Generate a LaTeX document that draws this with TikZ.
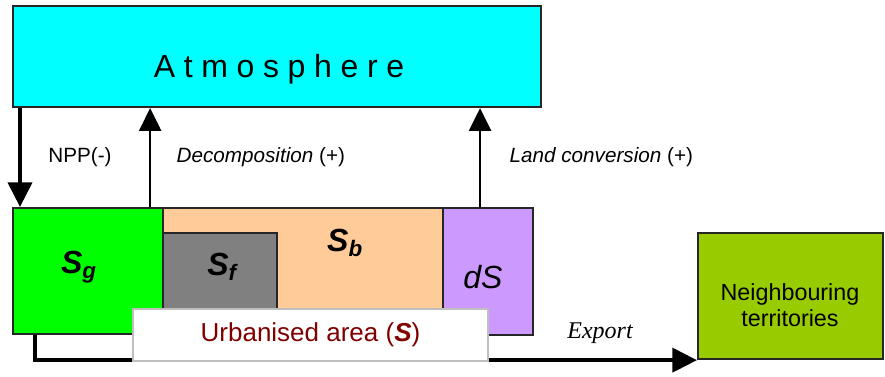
\documentclass[tikz,border=0pt]{standalone}
\usepackage{fontspec}
\setmainfont{Liberation Sans}
\newfontfamily\timesfont{Liberation Serif}
\newfontfamily\spacedfont[LetterSpace=27]{Liberation Sans}
\usetikzlibrary{arrows.meta,calc}
\definecolor{atmcyan}{RGB}{0,255,255}
\definecolor{sggreen}{RGB}{0,255,0}
\definecolor{sbpeach}{RGB}{255,204,153}
\definecolor{sfgray}{RGB}{128,128,128}
\definecolor{dsviolet}{RGB}{204,153,255}
\definecolor{neighgreen}{RGB}{153,204,0}
\definecolor{urbanred}{RGB}{128,0,0}
\begin{document}
\begin{tikzpicture}[x=0.75pt,y=-0.75pt,
    box/.style={draw=black!85,line width=1.6pt,inner sep=0pt,anchor=north west},
    stocklabel/.style={font=\fontsize{24}{28}\selectfont\bfseries\itshape},
    thinarrow/.style={line width=1.5pt,-{Triangle[width=16.5pt,length=17pt]}},
    bigarrow/.style={line width=3pt,-{Triangle[width=18pt,length=18.5pt]}},
    flowlabel/.style={font=\fontsize{15.5}{18}\selectfont}]
\useasboundingbox (0,0) rectangle (885,376);
% boxes
\node[box,fill=atmcyan,minimum width=396pt,minimum height=75.75pt] (atm) at (12,5) {};
\node[font=\spacedfont\fontsize{24}{28}\selectfont] (atmtext) at (279,69) {Atmosphere};
\node[box,fill=sggreen,minimum width=112.5pt,minimum height=94.5pt] (sg) at (12,207) {};
\node[box,fill=sbpeach,minimum width=210pt,minimum height=95.25pt] (sb) at (162,207) {};
\node[box,fill=sfgray,minimum width=85.5pt,minimum height=76.5pt] (sf) at (162,232) {};
\node[box,fill=dsviolet,minimum width=67.5pt,minimum height=95.25pt] (ds) at (442,207) {};
\node[stocklabel] (sgtext) at (79,267) {S\textsubscript{g}};
\node[stocklabel] (sbtext) at (345,243) {S\textsubscript{b}};
\node[stocklabel] (sftext) at (222,267) {S\textsubscript{f}};
\node[font=\fontsize{24}{28}\selectfont\itshape] (dstext) at (483,277) {dS};
% fluxes
\draw[bigarrow] ($(atm.south west)+(8,0)$) coordinate (npp) -- (npp |- sg.north);
\draw[thinarrow] ($(sg.north east)+(-14,0)$) coordinate (dec) -- (dec |- atm.south);
\draw[thinarrow] ($(ds.north)+(-8,0)$) coordinate (conv) -- (conv |- atm.south);
\node[flowlabel] (npplabel) at (80,157) {NPP(-)};
\node[flowlabel,anchor=west] (declabel) at (172,157) {\textit{Decomposition} (+)};
\node[flowlabel,anchor=west] (convlabel) at (505,157) {\textit{Land conversion} (+)};
% export
\node[box,fill=neighgreen,minimum width=138.75pt,minimum height=94.5pt] (neigh) at (697,232) {};
\node[font=\fontsize{17.5}{19}\selectfont,align=center] (neightext) at (790,305) {Neighbouring\\territories};
\draw[bigarrow] ($(sg.south west)+(23,0)$) |- (neigh.south west);
\node[font=\timesfont\itshape\fontsize{18}{21}\selectfont] (export) at (600,333) {Export};
\node[box,draw=black!25,line width=1.5pt,fill=white,minimum width=266.25pt,minimum height=39pt,
      font=\fontsize{19.5}{23}\selectfont,text=urbanred] (urban) at (132,308) {Urbanised area (\textbf{\textit{S}})};
\end{tikzpicture}
\end{document}
